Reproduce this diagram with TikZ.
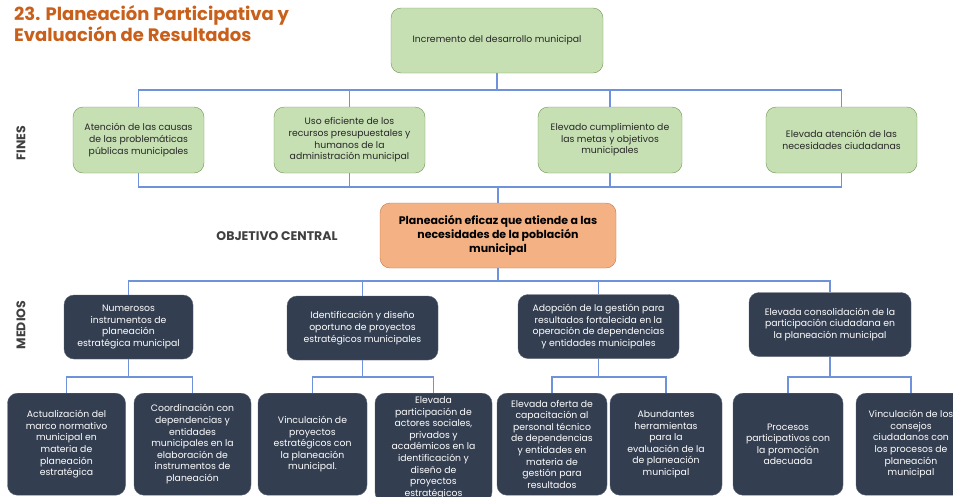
\documentclass[tikz,border=0pt]{standalone}
\usepackage{fontspec}
\setmainfont{Poppins}
\usepackage{xcolor}
\usepackage{tikz}
\usetikzlibrary{positioning,calc}
\definecolor{titulo}{RGB}{200,96,28}
\definecolor{verde}{RGB}{198,224,180}
\definecolor{verdeb}{RGB}{112,150,82}
\definecolor{naranja}{RGB}{244,177,131}
\definecolor{naranjab}{RGB}{196,120,70}
\definecolor{marino}{RGB}{51,62,80}
\definecolor{marinob}{RGB}{90,100,118}
\definecolor{enlace}{RGB}{112,146,218}
\definecolor{gris}{RGB}{64,64,64}

\begin{document}
\begin{tikzpicture}[x=1pt,y=-1pt,font=\fontsize{9.3}{11.6}\selectfont]
\tikzset{fin/.style={draw=verdeb,fill=verde,rounded corners=10pt,minimum height=66pt,align=center,text=black!85},
  cen/.style={draw=naranjab,fill=naranja,rounded corners=10pt,minimum width=236pt,minimum height=65pt,align=center,font=\fontsize{11}{14}\selectfont\bfseries},
  med/.style={draw=marinob,fill=marino,rounded corners=10pt,minimum height=64pt,align=center,text=white},
  acc/.style={med,anchor=north,minimum height=102pt},
  lab/.style={text=gris,font=\fontsize{12.5}{14}\selectfont\bfseries},
  lnk/.style={draw=enlace,line width=1.1pt}}
\useasboundingbox (0,0) rectangle (953,496);
\clip (0,0) rectangle (953,496);
\fill[white] (0,0) rectangle (953,496);
% titulo y etiquetas
\node[anchor=north west,align=left,text=titulo,font=\fontsize{18}{19}\selectfont\bfseries,inner sep=0pt] (tit) at (14,5) {23. Planeación Participativa y\\Evaluación de Resultados};
\node[lab,rotate=90] (fines) at (21,143) {FINES};
\node[lab,rotate=90] (medios) at (21,325) {MEDIOS};
\node[lab] (objc) at (277,236) {OBJETIVO CENTRAL};
% fin superior y fines
\node[fin,minimum width=212pt,minimum height=65pt] (top) at (497,40.5) {Incremento del desarrollo municipal};
\node[fin,minimum width=131pt] (f1) at (138.5,140) {Atención de las causas\\de las problemáticas\\públicas municipales};
\node[fin,minimum width=151pt] (f2) at (349.5,140) {Uso eficiente de los\\recursos presupuestales y\\humanos de la\\administración municipal};
\node[fin,minimum width=144pt] (f3) at (610,140) {Elevado cumplimiento de\\las metas y objetivos\\municipales};
\node[fin,minimum width=151pt] (f4) at (841.5,140) {Elevada atención de las\\necesidades ciudadanas};
% objetivo central
\node[cen] (obj) at (498,235.5) {Planeación eficaz que atiende a las\\necesidades de la población\\municipal};
% medios
\node[med,minimum width=129pt] (m1) at (128.5,327) {Numerosos\\instrumentos de\\planeación\\estratégica municipal};
\node[med,minimum width=151pt] (m2) at (362.5,328) {Identificación y diseño\\oportuno de proyectos\\estratégicos municipales};
\node[med,minimum width=161pt] (m3) at (598.5,326.5) {Adopción de la gestión para\\resultados fortalecida en la\\operación de dependencias\\y entidades municipales};
\node[med,minimum width=162pt] (m4) at (830,324.5) {Elevada consolidación de la\\participación ciudadana en\\la planeación municipal};
% acciones
\node[acc,minimum width=118pt] (b1) at (66.5,393) {Actualización del\\marco normativo\\municipal en\\materia de\\planeación\\estratégica};
\node[acc,minimum width=117pt] (b2) at (192.5,393) {Coordinación con\\dependencias y\\entidades\\municipales en la\\elaboración de\\instrumentos de\\planeación};
\node[acc,minimum width=109pt] (b3) at (312.5,393) {Vinculación de\\proyectos\\estratégicos con\\la planeación\\municipal.};
\node[acc,minimum width=117pt] (b4) at (433.5,393) {Elevada\\participación de\\actores sociales,\\privados y\\académicos en la\\identificación y\\diseño de\\proyectos\\estratégicos};
\node[acc,minimum width=110pt] (b5) at (552,393) {Elevada oferta de\\capacitación al\\personal técnico\\de dependencias\\y entidades en\\materia de\\gestión para\\resultados};
\node[acc,minimum width=112pt] (b6) at (666,393) {Abundantes\\herramientas\\para la\\evaluación de la\\de planeación\\municipal};
\node[acc,minimum width=110pt] (b7) at (788,393) {Procesos\\participativos con\\la promoción\\adecuada};
\node[acc,minimum width=110pt] (b8) at (911,393) {Vinculación de los\\consejos\\ciudadanos con\\los procesos de\\planeación\\municipal};
% conexiones
\coordinate (busA) at (0,90);
\coordinate (busB) at (0,187);
\coordinate (busC) at (0,281);
\draw[lnk] (top) -- (top|-busA);
\draw[lnk] (f1.north) |- (f4.north|-busA) -- (f4.north);
\foreach \f in {f2,f3} \draw[lnk] (\f.north) -- (\f.north|-busA);
\draw[lnk] (f1.south) |- (f4.south|-busB) -- (f4.south);
\foreach \f in {f2,f3} \draw[lnk] (\f.south) -- (\f.south|-busB);
\draw[lnk] (obj) -- (obj|-busB);
\draw[lnk] (obj) -- (obj|-busC);
\draw[lnk] (m1.north) |- (m4.north|-busC) -- (m4.north);
\foreach \m in {m2,m3} \draw[lnk] (\m.north) -- (\m.north|-busC);
\foreach \m/\a/\b in {m1/b1/b2,m2/b3/b4,m3/b5/b6,m4/b7/b8}{
  \draw[lnk] (\m.south) -- (\m.south|-0,377);
  \draw[lnk] (\a.north) -- ++(0,-16) -| (\b.north);
}
\end{tikzpicture}
\end{document}
